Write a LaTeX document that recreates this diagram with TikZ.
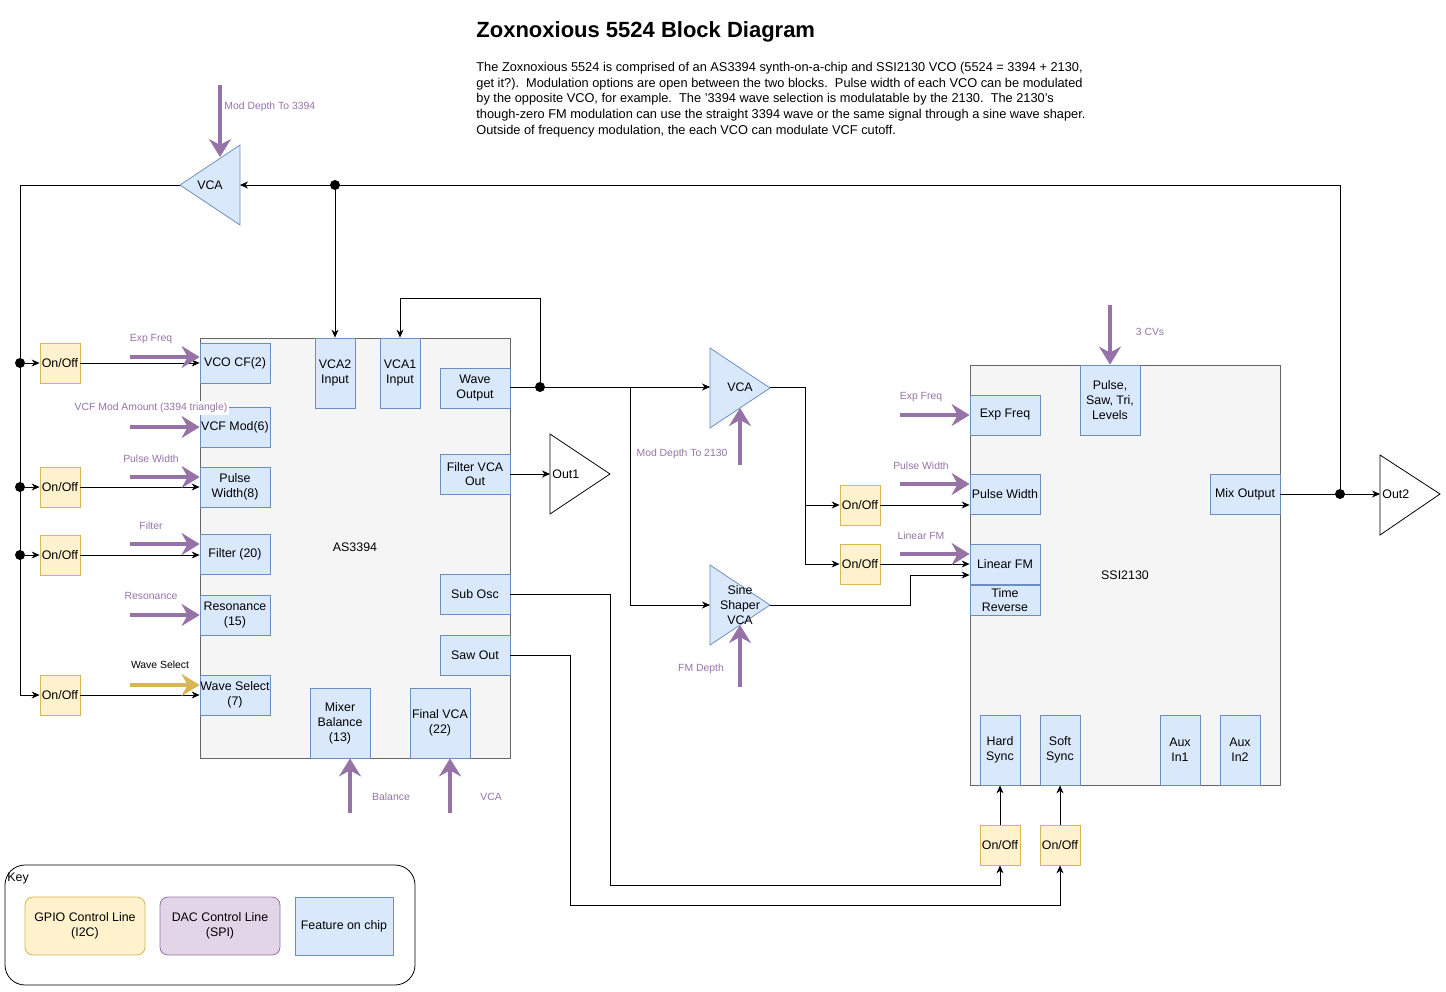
\documentclass[tikz,border=0pt]{standalone}
\usepackage{fontspec}
\setmainfont{Liberation Sans}
\usetikzlibrary{arrows.meta}
\definecolor{featfill}{HTML}{DAE8FC}
\definecolor{featdraw}{HTML}{6C8EBF}
\definecolor{gpiofill}{HTML}{FFF2CC}
\definecolor{gpiodraw}{HTML}{D6B656}
\definecolor{dacfill}{HTML}{E1D5E7}
\definecolor{dacdraw}{HTML}{9673A6}
\definecolor{chipfill}{HTML}{F5F5F5}
\definecolor{chipdraw}{HTML}{666666}
\begin{document}
\begin{tikzpicture}
[x=0.5pt,y=-0.5pt
,txt/.style={font=\fontsize{6.2}{7.4}\selectfont,align=center}
,feat/.style={txt,draw=featdraw,fill=featfill,inner sep=0pt}
,onoff/.style={txt,draw=gpiodraw,fill=gpiofill,inner sep=0pt,minimum width=20pt,minimum height=20pt}
,chip/.style={draw=chipdraw,fill=chipfill}
,amp/.style={draw=featdraw,fill=featfill}
,w/.style={draw=black,fill=white}
,sig/.style={arrows={-Stealth[length=4pt,width=3.5pt]}}
,cv/.style={draw=dacdraw,line width=2pt,arrows={-Stealth[length=9pt,width=11pt,inset=3pt]}}
,ws/.style={cv,draw=gpiodraw}
,cvl/.style={font=\fontsize{5.2}{6}\selectfont,text=dacdraw,inner sep=1pt}
,dot/.style={circle,fill=black,inner sep=0pt,minimum size=5pt}
]
\useasboundingbox (0,0) rectangle (1446,991);

% title and notes
\node[anchor=west,inner sep=0pt,font=\fontsize{11}{13}\selectfont\bfseries] (title) at (476,32) {Zoxnoxious 5524 Block Diagram};
\node[anchor=north west,align=left,inner sep=0pt,font=\fontsize{6.4}{7.8}\selectfont] (notes) at (476,62)
{The Zoxnoxious 5524 is comprised of an AS3394 synth-on-a-chip and SSI2130 VCO (5524 = 3394 + 2130,\\
get it?).\ \ Modulation options are open between the two blocks.\ \ Pulse width of each VCO can be modulated\\
by the opposite VCO, for example.\ \ The '3394 wave selection is modulatable by the 2130.\ \ The 2130's\\
though-zero FM modulation can use the straight 3394 wave or the same signal through a sine wave shaper.\\
Outside of frequency modulation, the each VCO can modulate VCF cutoff.};

% chips
\draw[chip] (200,338) rectangle (510,758);
\node[txt] (as) at (355,547) {AS3394};
\draw[chip] (970,365) rectangle (1280,785);
\node[txt] (ssi) at (1125,575) {SSI2130};

% AS3394 features
\node[feat,minimum width=35pt,minimum height=20pt] (vcocf) at (235,363) {VCO CF(2)};
\node[feat,minimum width=35pt,minimum height=20pt] (vcfmod) at (235,427) {VCF Mod(6)};
\node[feat,minimum width=35pt,minimum height=20pt] (pw) at (235,487) {Pulse\\Width(8)};
\node[feat,minimum width=35pt,minimum height=20pt] (filt) at (235,554) {Filter (20)};
\node[feat,minimum width=35pt,minimum height=20pt] (res) at (235,615) {Resonance\\(15)};
\node[feat,minimum width=35pt,minimum height=20pt] (wsel) at (235,695) {Wave Select\\(7)};
\node[feat,minimum width=20pt,minimum height=35pt] (vcatwo) at (335,373) {VCA2\\Input};
\node[feat,minimum width=20pt,minimum height=35pt] (vcaone) at (400,373) {VCA1\\Input};
\node[feat,minimum width=35pt,minimum height=20pt] (wout) at (475,388) {Wave\\Output};
\node[feat,minimum width=35pt,minimum height=20pt] (fvca) at (475,474) {Filter VCA\\Out};
\node[feat,minimum width=35pt,minimum height=20pt] (sub) at (475,594) {Sub Osc};
\node[feat,minimum width=35pt,minimum height=20pt] (saw) at (475,655) {Saw Out};
\node[feat,minimum width=30pt,minimum height=35pt] (mix) at (340,723) {Mixer\\Balance\\(13)};
\node[feat,minimum width=30pt,minimum height=35pt] (fin) at (440,723) {Final VCA\\(22)};

% SSI2130 features
\node[feat,minimum width=35pt,minimum height=20pt] (sexp) at (1005,415) {Exp Freq};
\node[feat,minimum width=30pt,minimum height=35pt] (lev) at (1110,400) {Pulse,\\Saw, Tri,\\Levels};
\node[feat,minimum width=35pt,minimum height=20pt] (spw) at (1005,494) {Pulse Width};
\node[feat,minimum width=35pt,minimum height=20pt] (lfm) at (1005,564) {Linear FM};
\node[feat,minimum width=35pt,minimum height=15pt] (trev) at (1005,600) {Time\\Reverse};
\node[feat,minimum width=35pt,minimum height=20pt] (mixo) at (1245,494) {Mix Output};
\node[feat,minimum width=20pt,minimum height=35pt] (hard) at (1000,750) {Hard\\Sync};
\node[feat,minimum width=20pt,minimum height=35pt] (soft) at (1060,750) {Soft\\Sync};
\node[feat,minimum width=20pt,minimum height=35pt] (auxa) at (1180,750) {Aux\\In1};
\node[feat,minimum width=20pt,minimum height=35pt] (auxb) at (1240,750) {Aux\\In2};

% on/off switches
\node[onoff] (sw1) at (60,363) {On/Off};
\node[onoff] (sw2) at (60,487) {On/Off};
\node[onoff] (sw3) at (60,555) {On/Off};
\node[onoff] (sw4) at (60,695) {On/Off};
\node[onoff] (sw5) at (860,505) {On/Off};
\node[onoff] (sw6) at (860,564) {On/Off};
\node[onoff] (sw7) at (1000,845) {On/Off};
\node[onoff] (sw8) at (1060,845) {On/Off};

% amplifiers
\draw[amp] (240,145) -- (240,225) -- (180,185) -- cycle;
\coordinate (vtin) at (240,185); \coordinate (vtout) at (180,185);
\node[txt] (vtop) at (210,185) {VCA};
\draw[amp] (710,348) -- (710,428) -- (770,388) -- cycle;
\coordinate (vmin) at (710,387); \coordinate (vmout) at (770,387);
\node[txt] (vmid) at (740,387) {VCA};
\draw[amp] (710,565) -- (710,645) -- (770,605) -- cycle;
\coordinate (shin) at (710,605); \coordinate (shout) at (770,605);
\node[txt] (shp) at (740,605) {Sine\\Shaper\\VCA};
\draw[w] (550,434) -- (550,514) -- (610,474) -- cycle;
\coordinate (oain) at (550,474);
\node[txt,anchor=west,inner sep=1pt] (outa) at (550,474) {Out1};
\draw[w] (1380,455) -- (1380,535) -- (1440,494) -- cycle;
\coordinate (obin) at (1380,494);
\node[txt,anchor=west,inner sep=1pt] (outb) at (1380,494) {Out2};

% junctions
\node[dot] (j1) at (20,363) {};
\node[dot] (j2) at (20,487) {};
\node[dot] (j3) at (20,555) {};
\node[dot] (jt) at (335,185) {};
\node[dot] (jw) at (540,387) {};
\node[dot] (jo) at (1340,494) {};
\coordinate (bend) at (20,695);

% signal wiring
\draw (vtout) -- (20,185) -- (bend);
\draw[sig] (bend) -- (sw4);
\draw[sig] (j1) -- (sw1);
\draw[sig] (j2) -- (sw2);
\draw[sig] (j3) -- (sw3);
\draw[sig] (sw1) -- (vcocf);
\draw[sig] (sw2) -- (pw);
\draw[sig] (sw3) -- (filt.west |- sw3);
\draw[sig] (sw4) -- (wsel);
\draw[sig] (jo) |- (vtin);
\draw[sig] (jt) -- (vcatwo);
\draw[sig] (jw) -- (540,298) -| (vcaone);
\draw (wout.east |- jw) -- (jw);
\draw[sig] (jw) -- (vmin);
\draw[sig] (630,387) |- (shin);
\draw[sig] (fvca) -- (oain);
\draw[sig] (vmout) -| (805,505) -- (sw5);
\draw[sig] (805,505) |- (sw6);
\draw[sig] (sw5) -- (spw.west |- sw5);
\draw[sig] (sw6) -- (lfm.west |- sw6);
\draw[sig] (shout) -| (910,575) -- (lfm.west |- 0,575);
\draw (mixo) -- (jo);
\draw[sig] (jo) -- (obin);
\draw[sig] (sw7) -- (hard);
\draw[sig] (sw8) -- (soft);
\draw[sig] (sub) -| (610,885) -| (sw7);
\draw[sig] (saw) -| (570,905) -| (sw8);

% control voltages
\draw[cv] (220,85) -- (220,157);
\node[cvl,anchor=west] (l1) at (222,107) {Mod Depth To 3394};
\draw[cv] (130,357) -- (vcocf.west |- 0,357);
\node[cvl] (l2) at (151,339) {Exp Freq};
\draw[cv] (130,427) -- (vcfmod);
\node[cvl,fill=white] (l3) at (151,408) {VCF Mod Amount (3394 triangle)};
\draw[cv] (130,477) -- (pw.west |- 0,477);
\node[cvl] (l4) at (151,459) {Pulse Width};
\draw[cv] (130,544) -- (filt.west |- 0,544);
\node[cvl] (l5) at (151,526) {Filter};
\draw[cv] (130,615) -- (res);
\node[cvl] (l6) at (151,596) {Resonance};
\draw[ws] (130,685) -- (wsel.west |- 0,685);
\node[cvl,text=black] (l7) at (160,665) {Wave Select};
\draw[cv] (350,813) -- (mix.south -| 350,0);
\node[cvl] (l8) at (391,797) {Balance};
\draw[cv] (450,813) -- (fin.south -| 450,0);
\node[cvl] (l9) at (491,797) {VCA};
\draw[cv] (740,465) -- (740,408);
\node[cvl] (l10) at (682,454) {Mod Depth To 2130};
\draw[cv] (740,687) -- (740,625);
\node[cvl] (l11) at (701,669) {FM Depth};
\draw[cv] (1110,305) -- (lev);
\node[cvl] (l12) at (1150,332) {3 CVs};
\draw[cv] (900,415) -- (sexp);
\node[cvl] (l13) at (921,397) {Exp Freq};
\draw[cv] (900,484) -- (spw.west |- 0,484);
\node[cvl] (l14) at (921,466) {Pulse Width};
\draw[cv] (900,554) -- (lfm.west |- 0,554);
\node[cvl] (l15) at (921,536) {Linear FM};

% key
\draw[rounded corners=10pt] (5,865) rectangle (415,985);
\node[txt,anchor=west,inner sep=1pt] (key) at (5,879) {Key};
\node[txt,draw=gpiodraw,fill=gpiofill,rounded corners=4pt,minimum width=60pt,minimum height=29pt] (kg) at (85,926) {GPIO Control Line\\(I2C)};
\node[txt,draw=dacdraw,fill=dacfill,rounded corners=4pt,minimum width=60pt,minimum height=29pt] (kd) at (220,926) {DAC Control Line\\(SPI)};
\node[feat,minimum width=49pt,minimum height=29pt] (kf) at (344,926) {Feature on chip};
\end{tikzpicture}
\end{document}
